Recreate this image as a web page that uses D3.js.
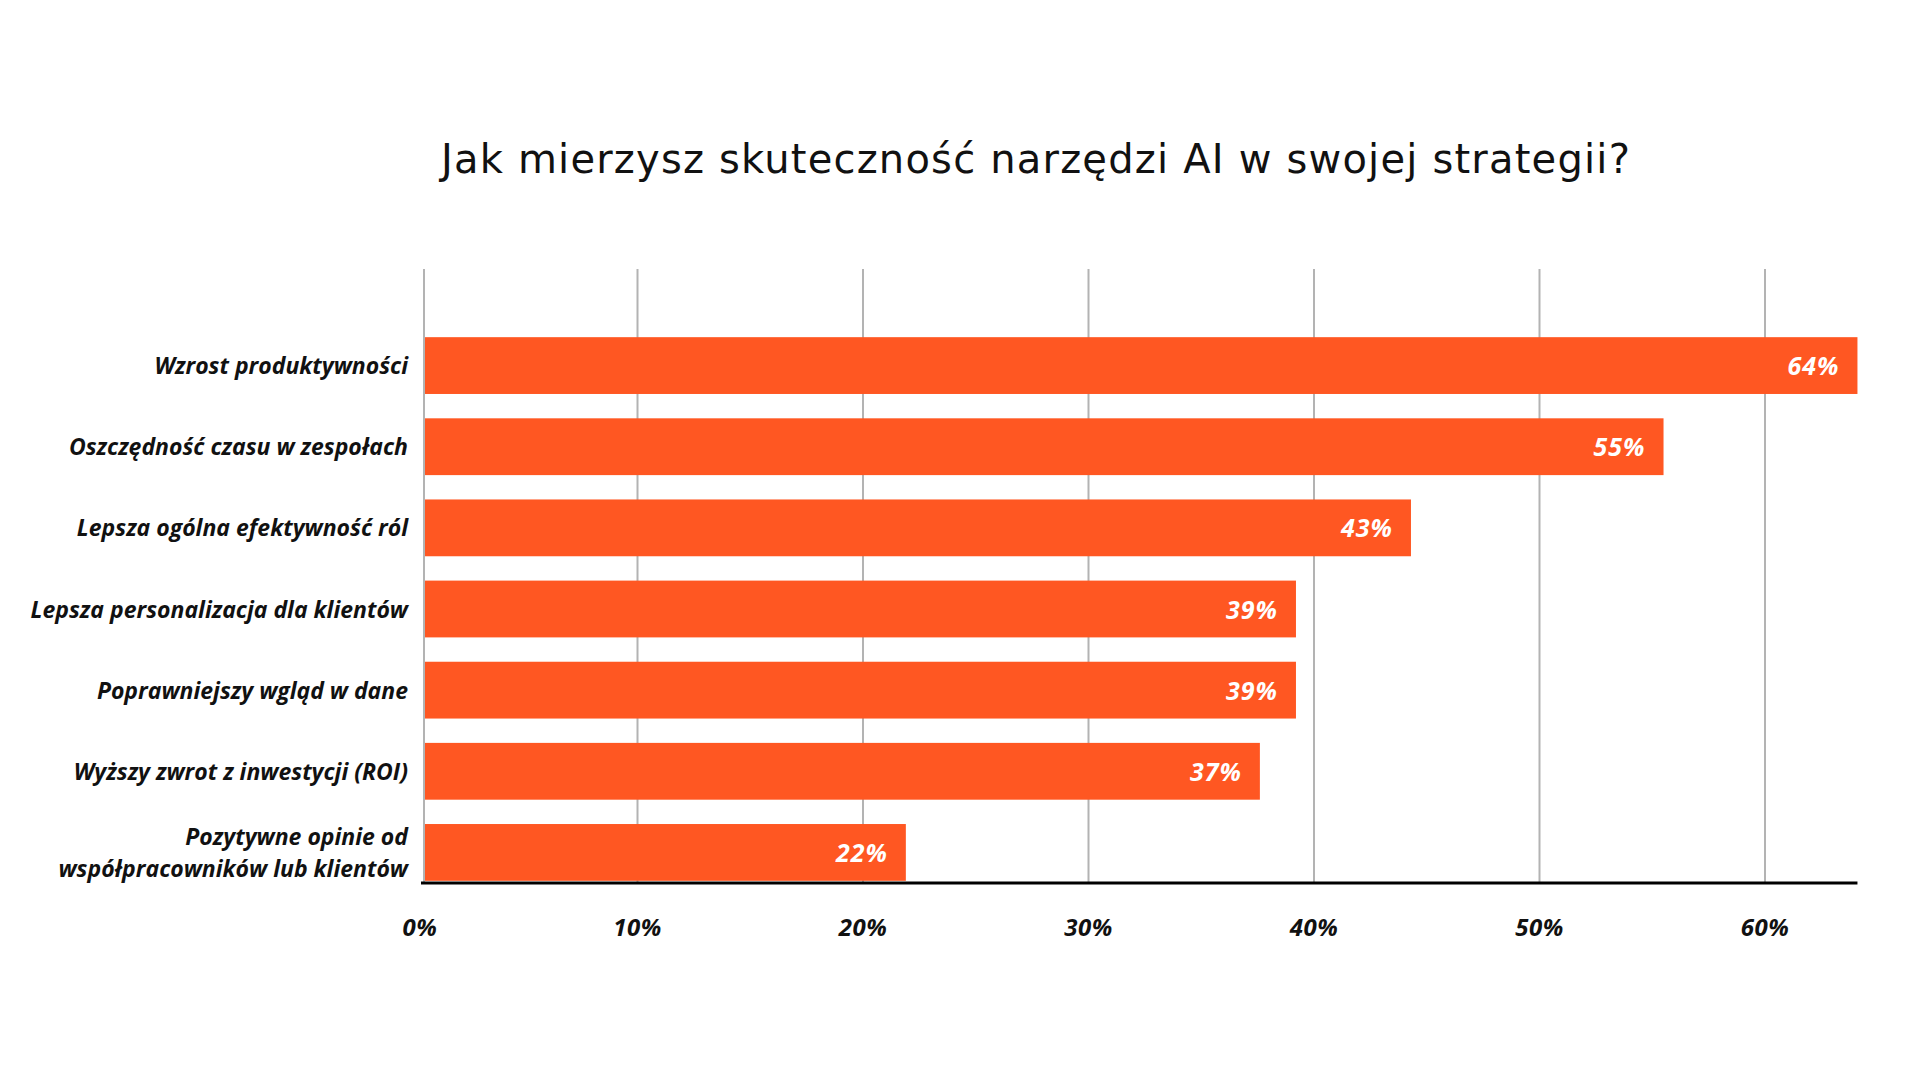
<!DOCTYPE html>
<html lang="pl">
<head>
<meta charset="utf-8">
<script src="https://cdn.jsdelivr.net/npm/d3@7"></script>
<style>
  html, body { margin: 0; background: #fff; }
  svg { display: block; }
  .title { font-family: "DejaVu Sans", sans-serif; font-size: 40px; letter-spacing: 1.2px; fill: #111; }
  .cat-label, .tick-label, .value-label {
    font-family: "Open Sans", sans-serif; font-weight: 700; font-style: italic;
  }
  .cat-label { font-size: 23px; fill: #111; }
  .tick-label { font-size: 24px; letter-spacing: 0.5px; fill: #111; }
  .value-label { font-size: 25px; letter-spacing: 1px; fill: #fff; }
</style>
</head>
<body>
<svg id="chart" width="1920" height="1080"></svg>
<script>
// data
const categories = [
  ["Wzrost produktywności"],
  ["Oszczędność czasu w zespołach"],
  ["Lepsza ogólna efektywność ról"],
  ["Lepsza personalizacja dla klientów"],
  ["Poprawniejszy wgląd w dane"],
  ["Wyższy zwrot z inwestycji (ROI)"],
  ["Pozytywne opinie od", "współpracowników lub klientów"]
];
const values = [64.1, 55.5, 44.3, 39.2, 39.2, 37.6, 21.9];
const valueLabels = ["64%", "55%", "43%", "39%", "39%", "37%", "22%"];
const tickValues = [0, 10, 20, 30, 40, 50, 60];
const title = "Jak mierzysz skuteczność narzędzi AI w swojej strategii?";

const BAR_COLOR = "#FF5722";
const GRID_COLOR = "#b3b3b3";

const svg = d3.select("#chart");
const plotLeft = 424;
const plotTop = 269;
const plotBottom = 883;

const x = d3.scaleLinear().domain([0, 60]).range([412, 1765]);
const y = d3.scaleBand()
  .domain(d3.range(categories.length))
  .range([325, 893])
  .paddingInner(0.3)
  .paddingOuter(0.15);

// the zero line sits on the plot edge, the other gridlines follow the scale
const gridX = t => t === 0 ? plotLeft : x(t);

svg.append("rect").attr("width", 1920).attr("height", 1080).attr("fill", "#fff");

svg.append("text")
  .attr("class", "title")
  .attr("x", 1036)
  .attr("y", 173)
  .attr("text-anchor", "middle")
  .text(title);

svg.append("g").selectAll("line")
  .data(tickValues)
  .enter().append("line")
  .attr("x1", gridX).attr("x2", gridX)
  .attr("y1", plotTop).attr("y2", plotBottom)
  .attr("stroke", GRID_COLOR)
  .attr("stroke-width", 2);

svg.append("g").selectAll("rect")
  .data(values)
  .enter().append("rect")
  .attr("x", plotLeft + 1)
  .attr("y", (d, i) => y(i))
  .attr("width", d => x(d) - plotLeft - 1)
  .attr("height", y.bandwidth())
  .attr("fill", BAR_COLOR);

svg.append("line")
  .attr("x1", plotLeft - 3)
  .attr("x2", x(d3.max(values)))
  .attr("y1", plotBottom).attr("y2", plotBottom)
  .attr("stroke", "#000")
  .attr("stroke-width", 3);

svg.append("g").selectAll("text")
  .data(values)
  .enter().append("text")
  .attr("class", "value-label")
  .attr("x", d => x(d) - 18)
  .attr("y", (d, i) => y(i) + y.bandwidth() / 2)
  .attr("dy", "0.38em")
  .attr("text-anchor", "end")
  .text((d, i) => valueLabels[i]);

const catGroup = svg.append("g");
categories.forEach((lines, i) => {
  const cy = y(i) + y.bandwidth() / 2;
  const lineH = 32;
  const t = catGroup.append("text")
    .attr("class", "cat-label")
    .attr("text-anchor", "end");
  lines.forEach((s, j) => {
    t.append("tspan")
      .attr("x", 408)
      .attr("y", cy + (j - (lines.length - 1) / 2) * lineH)
      .attr("dy", "0.37em")
      .text(s);
  });
});

svg.append("g").selectAll("text")
  .data(tickValues)
  .enter().append("text")
  .attr("class", "tick-label")
  .attr("x", d => gridX(d) - (d === 0 ? 4 : 0))
  .attr("y", 936)
  .attr("text-anchor", "middle")
  .text(d => d + "%");
</script>
</body>
</html>
